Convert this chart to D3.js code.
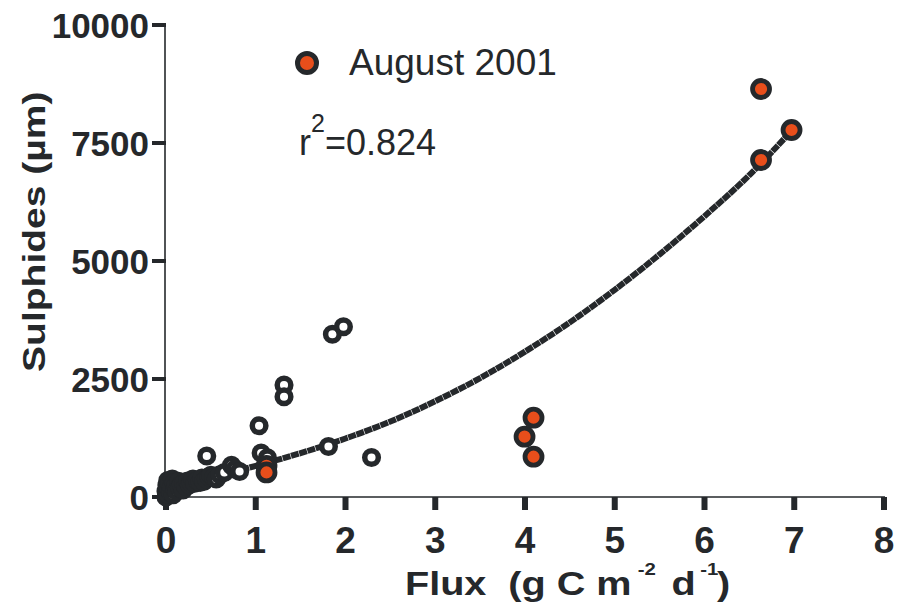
<!DOCTYPE html>
<html><head><meta charset="utf-8">
<script src="https://cdn.jsdelivr.net/npm/d3@7"></script>
<style>html,body{margin:0;padding:0;background:#fff}svg{display:block;font-family:"Liberation Sans",Arial,sans-serif}</style>
</head><body>
<svg id="chart" width="899" height="610"></svg>
<script>
// ---- data ----
const xTicks = [0,1,2,3,4,5,6,7,8];
const yTicks = [0,2500,5000,7500,10000];
// open circles (other surveys)
const openFlux  = [0,0,0.01,0.02,0.02,0.03,0.04,0.05,0.06,0.07,0.08,0.09,0.10,0.11,0.12,0.14,0.15,0.17,0.19,0.20,0.22,0.24,0.26,0.28,0.30,0.32,0.35,0.38,0.40,0.42,0.45,0.48,0.50,0.53,0.56,0.60,0.65,
                   0.73,0.77,0.82,0.454,1.037,1.06,1.13,1.315,1.315,1.81,1.854,1.977,2.29];
const openSulph = [0,120,250,60,350,180,280,100,220,380,50,300,160,240,120,330,200,260,150,300,220,340,260,300,380,290,350,310,400,330,380,430,460,420,380,470,520,
                   670,590,540,870,1511,930,830,2373,2125,1070,3447,3608,838];
// August 2001
const augFlux  = [1.12,1.12,3.995,4.095,4.095,6.63,6.63,6.97];
const augSulph = [660,520,1278,1680,854,8644,7140,7775];
// fitted curve
const fitFlux  = [0,0.5,1,1.5,2,2.5,3,3.5,4,4.5,5,5.5,6,6.5,6.97];
const fitSulph = [200,420,660,930,1240,1600,2030,2520,3080,3700,4390,5140,5950,6820,7760];
const legendLabel = "August 2001";
const r2Label = "0.824";

const dark = "#25282b", orange = "#e84e1b";
const svg = d3.select("#chart");
const x = d3.scaleLinear().domain([0,8]).range([166,884]);
const y = d3.scaleLinear().domain([0,10000]).range([497,25]);

// axes lines
svg.append("line").attr("x1",165).attr("x2",165).attr("y1",y(10000)).attr("y2",y(0)).attr("stroke",dark).attr("stroke-width",1.6);
svg.append("line").attr("x1",165).attr("x2",x(8)+1).attr("y1",y(0)).attr("y2",y(0)).attr("stroke",dark).attr("stroke-width",1.6);
// y ticks
svg.selectAll(".yt").data(yTicks).join("line").attr("x1",152).attr("x2",166).attr("y1",d=>y(d)).attr("y2",d=>y(d)).attr("stroke",dark).attr("stroke-width",4);
svg.selectAll(".yl").data(yTicks).join("text").attr("x",149).attr("y",d=>y(d)+12.5).attr("text-anchor","end")
  .attr("font-size",35).attr("font-weight","bold").attr("fill",dark).text(d=>d);
// x ticks
svg.selectAll(".xt").data(xTicks).join("line").attr("x1",d=>x(d)).attr("x2",d=>x(d)).attr("y1",y(0)).attr("y2",510).attr("stroke",dark).attr("stroke-width",6);
svg.selectAll(".xl").data(xTicks).join("text").attr("x",d=>x(d)).attr("y",553).attr("text-anchor","middle")
  .attr("font-size",37).attr("font-weight","bold").attr("fill",dark).text(d=>d);

// axis titles
const xt = svg.append("text").attr("transform","translate(405,595) scale(1.2,1)").attr("font-size",33).attr("font-weight","bold").attr("fill",dark);
xt.append("tspan").attr("x",0).text("Flux\u00a0\u00a0(g C m");
xt.append("tspan").attr("x",194).attr("dy",-20).attr("font-size",17).text("-2");
xt.append("tspan").attr("x",222).attr("dy",20).text("d");
xt.append("tspan").attr("x",246).attr("dy",-20).attr("font-size",17).text("-1");
xt.append("tspan").attr("x",260).attr("dy",20).text(")");

svg.append("text").attr("transform","translate(45,372) rotate(-90) scale(1.22,1)").attr("font-size",32).attr("font-weight","bold").attr("fill",dark).text("Sulphides (µm)");

// fitted curve
const line = d3.line().x(d=>x(d[0])).y(d=>y(d[1])).curve(d3.curveMonotoneX);
svg.append("path").datum(fitFlux.map((f,i)=>[f,fitSulph[i]])).attr("d",line).attr("fill","none").attr("stroke",dark).attr("stroke-width",6).attr("stroke-dasharray","8,0.6");

// points
svg.selectAll(".op").data(openFlux.map((f,i)=>[f,openSulph[i]])).join("circle").attr("cx",d=>x(d[0])).attr("cy",d=>y(d[1])).attr("r",6.8)
  .attr("fill","#fff").attr("stroke",dark).attr("stroke-width",5.5);
svg.selectAll(".ag").data(augFlux.map((f,i)=>[f,augSulph[i]])).join("circle").attr("cx",d=>x(d[0])).attr("cy",d=>y(d[1])).attr("r",8.5)
  .attr("fill",orange).attr("stroke",dark).attr("stroke-width",4.8);

// legend
svg.append("circle").attr("cx",307).attr("cy",63).attr("r",9.5).attr("fill",orange).attr("stroke",dark).attr("stroke-width",5);
svg.append("text").attr("x",349).attr("y",75).attr("font-size",37).attr("fill",dark).text(legendLabel);
const r2 = svg.append("text").attr("x",299).attr("y",155).attr("font-size",36).attr("fill",dark);
r2.append("tspan").text("r");
r2.append("tspan").attr("dy",-23).attr("font-size",25).text("2");
r2.append("tspan").attr("dy",23).text("="+r2Label);
</script>
</body></html>
